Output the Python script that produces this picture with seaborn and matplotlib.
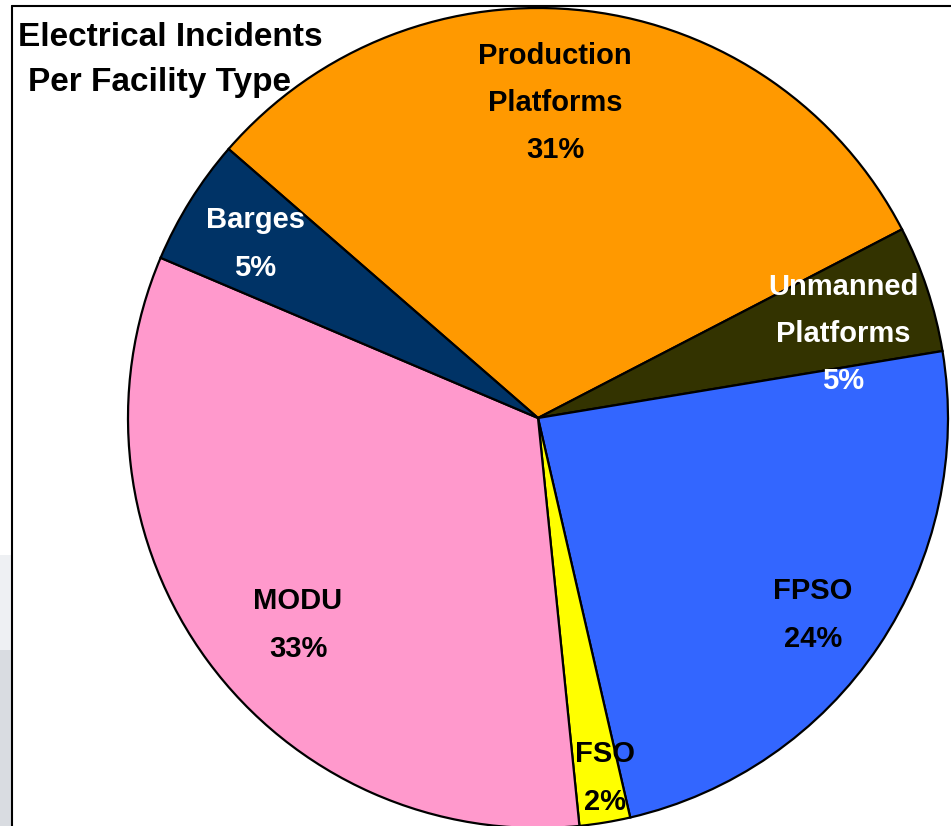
import matplotlib
matplotlib.use("Agg")
import matplotlib.pyplot as plt
import seaborn as sns
from matplotlib.patches import Rectangle

# data (clockwise from the top-left)
categories = ["Production\nPlatforms", "Unmanned\nPlatforms", "FPSO", "FSO", "MODU", "Barges"]
shares = [31, 5, 24, 2, 33, 5]
colors = ["#FF9900", "#333300", "#3366FF", "#FFFF00", "#FF99CC", "#003366"]
label_colors = ["black", "white", "black", "black", "black", "white"]
title_lines = ["Electrical Incidents", "Per Facility Type"]

# label centres in pixel coords (x from left, y from top)
label_pos = [(555, 103), (843, 334), (813, 615), (605, 778), (298, 625), (255, 244)]

W, H = 951, 826


def plot_pie():
    sns.set_theme(style="white")
    plt.rcParams["font.family"] = ["Liberation Sans", "DejaVu Sans"]

    fig = plt.figure(figsize=(W / 100, H / 100), dpi=100)
    ax = fig.add_axes([0, 0, 1, 1])

    # grey strip at the far left edge of the slide
    ax.add_patch(Rectangle((0, 0), 12, H - 650, color="#d9dce1", lw=0, zorder=0))
    ax.add_patch(Rectangle((0, H - 650), 12, 95, color="#eef0f3", lw=0, zorder=0))

    ax.pie(
        shares,
        colors=colors,
        startangle=139,
        counterclock=False,
        center=(538, H - 418),
        radius=410,
        wedgeprops=dict(edgecolor="black", linewidth=1.6),
        frame=True,
    )
    ax.set_xlim(0, W)
    ax.set_ylim(0, H)
    ax.set_aspect("equal")
    ax.axis("off")

    for name, val, (x, y), c in zip(categories, shares, label_pos, label_colors):
        ax.text(x, H - y, f"{name}\n{val}%", ha="center", va="center",
                fontsize=21, fontweight="bold", color=c, linespacing=1.88)

    ax.text(18, H - 37, title_lines[0], ha="left", va="center", fontsize=24,
            fontweight="bold", color="black")
    ax.text(28, H - 82, title_lines[1], ha="left", va="center", fontsize=24,
            fontweight="bold", color="black")

    # frame lines (top and left)
    ax.plot([12, W], [H - 6, H - 6], color="black", lw=1.5, clip_on=False)
    ax.plot([12, 12], [H - 6, 0], color="black", lw=1.5, clip_on=False)

    fig.savefig("out.png", dpi=100)


if __name__ == "__main__":
    plot_pie()
